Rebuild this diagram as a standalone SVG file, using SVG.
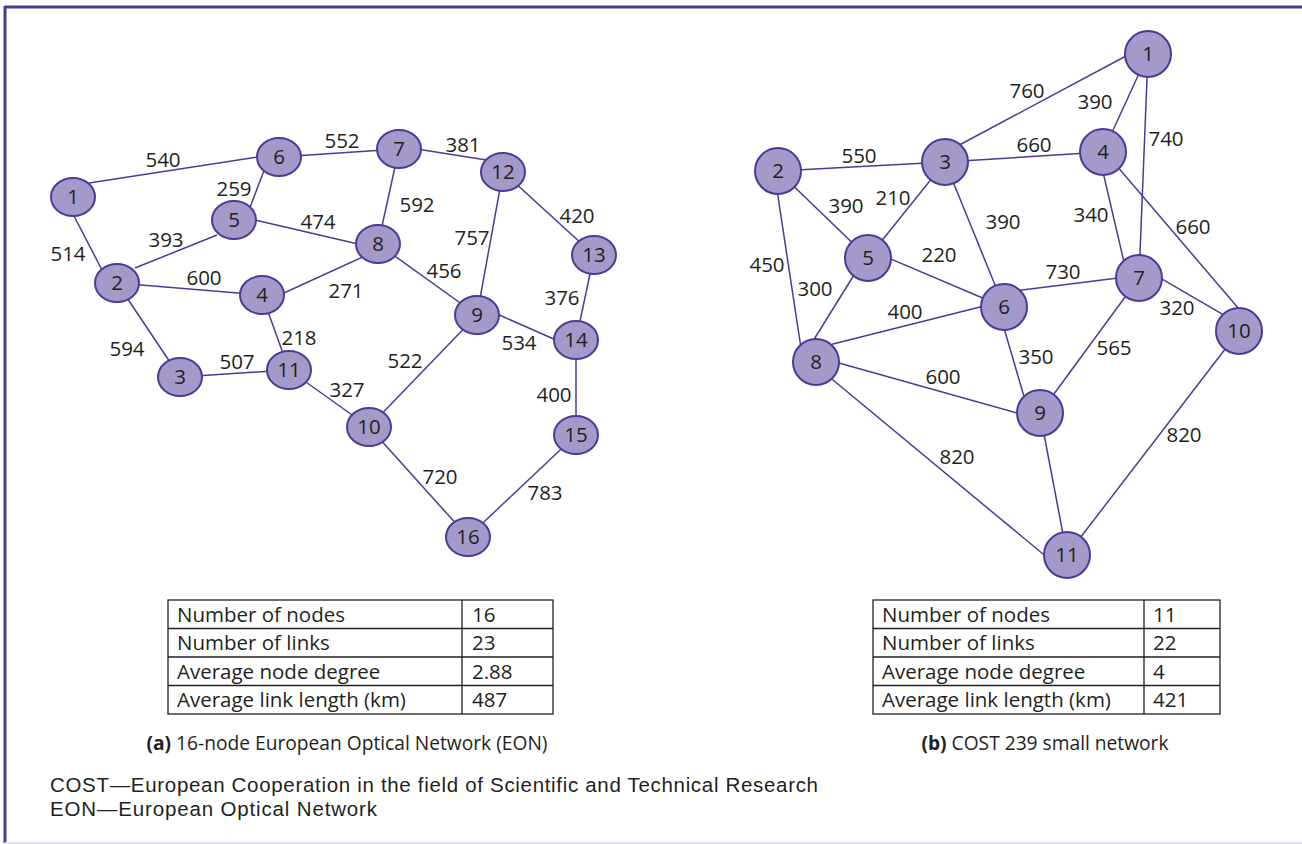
<svg xmlns="http://www.w3.org/2000/svg" width="1302" height="844" viewBox="0 0 1302 844">
<style>
.bg{fill:#ffffff}
.frame{stroke:#4b3a97;stroke-width:3;fill:none}
.edge{stroke:#4b3a97;stroke-width:1.5;fill:none}
.node{fill:#a499c9;stroke:#4b3a97;stroke-width:2}
.nl{font-family:"Open Sans","Liberation Sans",sans-serif;font-size:20.5px;fill:#231f20;text-anchor:middle}
.el{font-family:"Open Sans","Liberation Sans",sans-serif;font-size:20.5px;fill:#231f20;text-anchor:middle}
.tb{fill:none;stroke:#231f20;stroke-width:1.3}
.tt{font-family:"Open Sans","Liberation Sans",sans-serif;font-size:20.5px;fill:#231f20}
.cap{font-family:"Open Sans","Liberation Sans",sans-serif;font-size:19.2px;fill:#231f20;text-anchor:middle}
.fn{font-family:"Liberation Sans",Arial,sans-serif;font-size:20.5px;fill:#231f20}
</style>
<rect class="bg" x="0" y="0" width="1302" height="844"/>
<g id="frame">
<line class="frame" x1="5" y1="7" x2="1302" y2="7"/>
<line class="frame" x1="5" y1="6" x2="5" y2="843"/>
<line x1="5" y1="843" x2="1302" y2="843" stroke="#e4e0f0" stroke-width="2"/>
</g>
<g id="connectors-a">
<line class="edge" x1="89" y1="183" x2="258" y2="157"/>
<line class="edge" x1="73" y1="214" x2="102" y2="270"/>
<line class="edge" x1="279" y1="157" x2="399" y2="149"/>
<line class="edge" x1="265" y1="168" x2="249" y2="210"/>
<line class="edge" x1="420" y1="149.5" x2="488" y2="160.3"/>
<line class="edge" x1="399" y1="149" x2="378" y2="244"/>
<line class="edge" x1="135" y1="268" x2="217" y2="235"/>
<line class="edge" x1="255" y1="220" x2="358" y2="244"/>
<line class="edge" x1="117" y1="283" x2="262" y2="295"/>
<line class="edge" x1="117" y1="283" x2="180" y2="377"/>
<line class="edge" x1="262" y1="303" x2="378" y2="250"/>
<line class="edge" x1="262" y1="295" x2="289" y2="370"/>
<line class="edge" x1="180" y1="377" x2="289" y2="370"/>
<line class="edge" x1="289" y1="370" x2="369" y2="427"/>
<line class="edge" x1="378" y1="244" x2="477" y2="315"/>
<line class="edge" x1="503" y1="172" x2="477" y2="315"/>
<line class="edge" x1="503" y1="172" x2="594" y2="255"/>
<line class="edge" x1="594" y1="255" x2="576" y2="340"/>
<line class="edge" x1="497" y1="314" x2="556" y2="340"/>
<line class="edge" x1="477" y1="315" x2="369" y2="427"/>
<line class="edge" x1="576" y1="340" x2="576" y2="435"/>
<line class="edge" x1="369" y1="427" x2="468" y2="537"/>
<line class="edge" x1="576" y1="435" x2="468" y2="537"/>
</g>
<g id="edge-labels-a">
<text class="el" x="163" y="167">540</text>
<text class="el" x="342" y="148">552</text>
<text class="el" x="234" y="196">259</text>
<text class="el" x="318" y="229">474</text>
<text class="el" x="166" y="247">393</text>
<text class="el" x="68" y="261">514</text>
<text class="el" x="204" y="285">600</text>
<text class="el" x="346" y="298">271</text>
<text class="el" x="463" y="152">381</text>
<text class="el" x="417" y="212">592</text>
<text class="el" x="577" y="223">420</text>
<text class="el" x="472" y="245">757</text>
<text class="el" x="444" y="278">456</text>
<text class="el" x="562" y="305">376</text>
<text class="el" x="519" y="350">534</text>
<text class="el" x="405" y="368">522</text>
<text class="el" x="299" y="345">218</text>
<text class="el" x="237" y="369">507</text>
<text class="el" x="127" y="356">594</text>
<text class="el" x="347" y="397">327</text>
<text class="el" x="554" y="402">400</text>
<text class="el" x="440" y="484">720</text>
<text class="el" x="545" y="500">783</text>
</g>
<g id="a-n1"><ellipse class="node" cx="73" cy="197" rx="22" ry="19"/><text class="nl" x="73" y="204">1</text></g>
<g id="a-n2"><ellipse class="node" cx="117" cy="283" rx="22" ry="19"/><text class="nl" x="117" y="290">2</text></g>
<g id="a-n3"><ellipse class="node" cx="180" cy="377" rx="22" ry="19"/><text class="nl" x="180" y="384">3</text></g>
<g id="a-n4"><ellipse class="node" cx="262" cy="295" rx="22" ry="19"/><text class="nl" x="262" y="302">4</text></g>
<g id="a-n5"><ellipse class="node" cx="234" cy="220" rx="22" ry="19"/><text class="nl" x="234" y="227">5</text></g>
<g id="a-n6"><ellipse class="node" cx="279" cy="157" rx="22" ry="19"/><text class="nl" x="279" y="164">6</text></g>
<g id="a-n7"><ellipse class="node" cx="399" cy="149" rx="22" ry="19"/><text class="nl" x="399" y="156">7</text></g>
<g id="a-n8"><ellipse class="node" cx="378" cy="244" rx="22" ry="19"/><text class="nl" x="378" y="251">8</text></g>
<g id="a-n9"><ellipse class="node" cx="477" cy="315" rx="22" ry="19"/><text class="nl" x="477" y="322">9</text></g>
<g id="a-n10"><ellipse class="node" cx="369" cy="427" rx="22" ry="19"/><text class="nl" x="369" y="434">10</text></g>
<g id="a-n11"><ellipse class="node" cx="289" cy="370" rx="22" ry="19"/><text class="nl" x="289" y="377">11</text></g>
<g id="a-n12"><ellipse class="node" cx="503" cy="172" rx="22" ry="19"/><text class="nl" x="503" y="179">12</text></g>
<g id="a-n13"><ellipse class="node" cx="594" cy="255" rx="22" ry="19"/><text class="nl" x="594" y="262">13</text></g>
<g id="a-n14"><ellipse class="node" cx="576" cy="340" rx="22" ry="19"/><text class="nl" x="576" y="347">14</text></g>
<g id="a-n15"><ellipse class="node" cx="576" cy="435" rx="22" ry="19"/><text class="nl" x="576" y="442">15</text></g>
<g id="a-n16"><ellipse class="node" cx="468" cy="537" rx="22" ry="19"/><text class="nl" x="468" y="544">16</text></g>
<g id="connectors-b">
<line class="edge" x1="950" y1="150" x2="1126" y2="56"/>
<line class="edge" x1="1148" y1="54" x2="1103" y2="152"/>
<line class="edge" x1="1148" y1="54" x2="1139" y2="278"/>
<line class="edge" x1="778" y1="171" x2="945" y2="162"/>
<line class="edge" x1="778" y1="171" x2="868" y2="258"/>
<line class="edge" x1="777" y1="190" x2="801" y2="348"/>
<line class="edge" x1="945" y1="162" x2="1103" y2="152"/>
<line class="edge" x1="945" y1="162" x2="868" y2="258"/>
<line class="edge" x1="945" y1="162" x2="1004" y2="307"/>
<line class="edge" x1="1103" y1="172" x2="1124" y2="262"/>
<line class="edge" x1="1119" y1="168.6" x2="1239" y2="309"/>
<line class="edge" x1="890" y1="258.6" x2="985" y2="299"/>
<line class="edge" x1="854" y1="275" x2="813" y2="341"/>
<line class="edge" x1="1020" y1="290.2" x2="1118" y2="277.9"/>
<line class="edge" x1="982" y1="306.5" x2="832" y2="344.3"/>
<line class="edge" x1="1004" y1="328" x2="1025" y2="400"/>
<line class="edge" x1="1139" y1="278" x2="1040" y2="413"/>
<line class="edge" x1="1160" y1="277.8" x2="1224" y2="315.2"/>
<line class="edge" x1="838" y1="362.7" x2="1018" y2="413.3"/>
<line class="edge" x1="830" y1="377.5" x2="1046" y2="556.5"/>
<line class="edge" x1="1040" y1="413" x2="1067" y2="555"/>
<line class="edge" x1="1239" y1="331" x2="1067" y2="555"/>
</g>
<g id="edge-labels-b">
<text class="el" x="1027" y="98">760</text>
<text class="el" x="1095" y="109">390</text>
<text class="el" x="1166" y="146">740</text>
<text class="el" x="859" y="163">550</text>
<text class="el" x="1034" y="152">660</text>
<text class="el" x="846" y="213">390</text>
<text class="el" x="893" y="205">210</text>
<text class="el" x="1003" y="229">390</text>
<text class="el" x="1091" y="222">340</text>
<text class="el" x="1193" y="234">660</text>
<text class="el" x="939" y="262">220</text>
<text class="el" x="1063" y="279">730</text>
<text class="el" x="767" y="272">450</text>
<text class="el" x="815" y="296">300</text>
<text class="el" x="1177" y="315">320</text>
<text class="el" x="905" y="319">400</text>
<text class="el" x="1036" y="364">350</text>
<text class="el" x="1114" y="355">565</text>
<text class="el" x="943" y="384">600</text>
<text class="el" x="957" y="464">820</text>
<text class="el" x="1184" y="442">820</text>
</g>
<g id="b-n1"><circle class="node" cx="1148" cy="54" r="23"/><text class="nl" x="1148" y="61">1</text></g>
<g id="b-n2"><circle class="node" cx="778" cy="171" r="23"/><text class="nl" x="778" y="178">2</text></g>
<g id="b-n3"><circle class="node" cx="945" cy="162" r="23"/><text class="nl" x="945" y="169">3</text></g>
<g id="b-n4"><circle class="node" cx="1103" cy="152" r="23"/><text class="nl" x="1103" y="159">4</text></g>
<g id="b-n5"><circle class="node" cx="868" cy="258" r="23"/><text class="nl" x="868" y="265">5</text></g>
<g id="b-n6"><circle class="node" cx="1004" cy="307" r="23"/><text class="nl" x="1004" y="314">6</text></g>
<g id="b-n7"><circle class="node" cx="1139" cy="278" r="23"/><text class="nl" x="1139" y="285">7</text></g>
<g id="b-n8"><circle class="node" cx="816" cy="362" r="23"/><text class="nl" x="816" y="369">8</text></g>
<g id="b-n9"><circle class="node" cx="1040" cy="413" r="23"/><text class="nl" x="1040" y="420">9</text></g>
<g id="b-n10"><circle class="node" cx="1239" cy="331" r="23"/><text class="nl" x="1239" y="338">10</text></g>
<g id="b-n11"><circle class="node" cx="1067" cy="555" r="23"/><text class="nl" x="1067" y="562">11</text></g>
<g id="table-a">
<rect class="tb" x="168" y="600" width="385" height="114"/>
<line class="tb" x1="462" y1="600" x2="462" y2="714"/>
<line class="tb" x1="168" y1="628.5" x2="553" y2="628.5"/>
<line class="tb" x1="168" y1="657" x2="553" y2="657"/>
<line class="tb" x1="168" y1="685.5" x2="553" y2="685.5"/>
<text class="tt" x="177" y="621.5">Number of nodes</text>
<text class="tt" x="177" y="650">Number of links</text>
<text class="tt" x="177" y="678.5">Average node degree</text>
<text class="tt" x="177" y="707">Average link length (km)</text>
<text class="tt" x="472" y="621.5">16</text>
<text class="tt" x="472" y="650">23</text>
<text class="tt" x="472" y="678.5">2.88</text>
<text class="tt" x="472" y="707">487</text>
</g>
<g id="table-b">
<rect class="tb" x="873" y="600" width="347" height="114"/>
<line class="tb" x1="1144" y1="600" x2="1144" y2="714"/>
<line class="tb" x1="873" y1="628.5" x2="1220" y2="628.5"/>
<line class="tb" x1="873" y1="657" x2="1220" y2="657"/>
<line class="tb" x1="873" y1="685.5" x2="1220" y2="685.5"/>
<text class="tt" x="882" y="621.5">Number of nodes</text>
<text class="tt" x="882" y="650">Number of links</text>
<text class="tt" x="882" y="678.5">Average node degree</text>
<text class="tt" x="882" y="707">Average link length (km)</text>
<text class="tt" x="1153" y="621.5">11</text>
<text class="tt" x="1153" y="650">22</text>
<text class="tt" x="1153" y="678.5">4</text>
<text class="tt" x="1153" y="707">421</text>
</g>
<g id="captions">
<text class="cap" x="347" y="750"><tspan font-weight="bold">(a)</tspan> 16-node European Optical Network (EON)</text>
<text class="cap" x="1045" y="750"><tspan font-weight="bold">(b)</tspan> COST 239 small network</text>
<text class="fn" x="50" y="792" textLength="768" lengthAdjust="spacing">COST—European Cooperation in the field of Scientific and Technical Research</text>
<text class="fn" x="50" y="816" textLength="327" lengthAdjust="spacing">EON—European Optical Network</text>
</g>
</svg>
